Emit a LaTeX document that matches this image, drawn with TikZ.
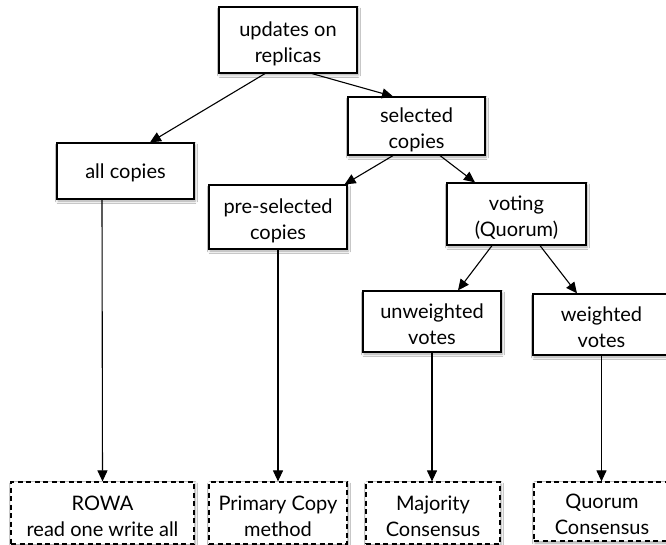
\documentclass[tikz,border=0pt]{standalone}
\usepackage{fontspec}
\setmainfont{Lato}
\usetikzlibrary{arrows.meta,shadows.blur}
% two centred lines, the box baseline being that of the first line
\newcommand{\boxlines}[1]{\begin{tabular}[t]{@{}c@{}}#1\end{tabular}}
\begin{document}
\begin{tikzpicture}[x=1pt,y=-1pt,
  box/.style={draw=black, line width=1.2pt, fill=white, rectangle, inner sep=0pt,
    font=\fontsize{20}{26}\selectfont,
    blur shadow={shadow xshift=1pt, shadow yshift=-2pt, shadow blur radius=2.5pt,
      shadow blur steps=6, shadow opacity=35}},
  oneline/.style={text height=16pt, text depth=0pt},
  twolines/.style={text height=0pt, text depth=6pt},
  result/.style={box, twolines, dash pattern=on 5pt off 3.5pt},
  link/.style={draw=black, line width=1.1pt, -{Triangle[length=11pt,width=10pt]}}]
\useasboundingbox[fill=white] (0,0) rectangle (666,545);

% decision tree nodes
\node[box, twolines, minimum width=138pt, minimum height=66pt] (upd) at (288,40) {\boxlines{updates on\\replicas}};
\node[box, twolines, minimum width=137pt, minimum height=58pt] (sel) at (416.5,126) {\boxlines{selected\\copies}};
\node[box, oneline, minimum width=137pt, minimum height=56pt] (all) at (125.5,171) {all copies};
\node[box, twolines, minimum width=138pt, minimum height=64pt] (pre) at (278,217) {\boxlines{pre-selected\\copies}};
\node[box, twolines, minimum width=139pt, minimum height=62pt] (vot) at (516.5,214) {\boxlines{voting\\(Quorum)}};
\node[box, twolines, minimum width=138pt, minimum height=61pt] (unw) at (432,321.5) {\boxlines{unweighted\\votes}};
\node[box, twolines, minimum width=137pt, minimum height=61pt] (wei) at (601.5,324.5) {\boxlines{weighted\\votes}};

% resulting protocols
\node[result, minimum width=183pt, minimum height=62pt] (rowa) at (102.5,513) {\boxlines{ROWA\\read one write all}};
\node[result, minimum width=138pt, minimum height=62pt] (prim) at (278,513) {\boxlines{Primary Copy\\method}};
\node[result, minimum width=134pt, minimum height=62pt] (maj) at (433,513) {\boxlines{Majority\\Consensus}};
\node[result, minimum width=136pt, minimum height=59pt] (quo) at (602,511.5) {\boxlines{Quorum\\Consensus}};

% connectors
\draw[link] ([xshift=-23pt]upd.south) -- ([xshift=24.5pt]all.north);
\draw[link] ([xshift=24pt]upd.south) -- ([xshift=-23.5pt]sel.north);
\draw[link] ([xshift=-23.5pt]sel.south) -- ([xshift=-3pt]pre.north east);
\draw[link] ([xshift=23.5pt]sel.south) -- ([xshift=-41.5pt]vot.north);
\draw[link] ([xshift=-24.5pt]vot.south) -- ([xshift=26pt]unw.north);
\draw[link] ([xshift=23.5pt]vot.south) -- ([xshift=-24.5pt]wei.north);
\draw[link] ([xshift=-23.5pt]all.south) -- (rowa.north);
\draw[link] (pre.south) -- (prim.north);
\draw[link] (unw.south) -- (unw.south |- maj.north);
\draw[link] (wei.south) -- (wei.south |- quo.north);
\end{tikzpicture}
\end{document}
